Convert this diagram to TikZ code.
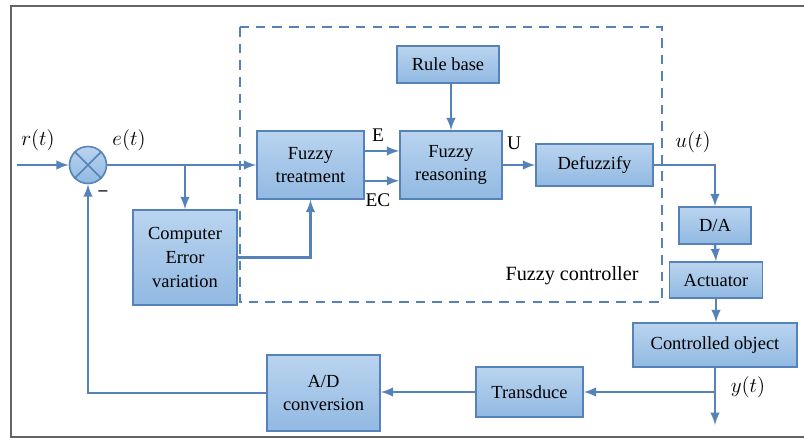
\documentclass[tikz,border=0pt]{standalone}
\usepackage{fontspec}
\setmainfont{Liberation Serif}
\usepackage{tikz}
\usetikzlibrary{positioning}

\definecolor{lineblue}{RGB}{84,130,185}
\definecolor{boxtop}{RGB}{186,212,239}
\definecolor{boxbot}{RGB}{145,185,226}
\definecolor{framegray}{RGB}{100,100,100}

\begin{document}
\begin{tikzpicture}[>=latex, x=0.02cm, y=-0.02cm,
    block/.style={draw=lineblue, line width=0.9pt, top color=boxtop, bottom color=boxbot,
        align=center, inner sep=0pt, font=\fontsize{10.5}{13.5}\selectfont},
    link/.style={draw=lineblue, line width=1.4pt},
    sig/.style={font=\large}]

        \useasboundingbox (0,0) rectangle (804,439);
        % outer frame
        \draw[framegray, line width=1.4pt] (810,6) -- (11,6) -- (11,437) -- (810,437);

        % fuzzy controller
        \draw[lineblue, line width=1.2pt, dash pattern=on 5.5pt off 4pt] (240,27) rectangle (662,302);
        \node[font=\fontsize{11.5}{14}\selectfont] at (572,276) (fc) {Fuzzy controller};

        \node[draw=lineblue, line width=0.9pt, top color=boxtop, bottom color=boxbot,
            circle, minimum size=37*0.02cm, inner sep=0pt] at (88,165) (sum) {};
        \draw[lineblue, line width=0.9pt] (sum.north west) -- (sum.south east)
            (sum.north east) -- (sum.south west);

        \node[block, minimum width=107*0.02cm, minimum height=68*0.02cm] at (310.5,165) (treat) {Fuzzy\\treatment};
        \node[block, minimum width=102*0.02cm, minimum height=37*0.02cm] at (448,64.5) (rule) {Rule base};
        \node[block, minimum width=102*0.02cm, minimum height=68*0.02cm] at (451,165) (reason) {Fuzzy\\reasoning};
        \node[block, minimum width=117*0.02cm, minimum height=42*0.02cm] at (594.5,165) (defuzz) {Defuzzify};
        \node[block, minimum width=104*0.02cm, minimum height=95*0.02cm] at (185,257.5) (errvar) {Computer\\Error\\variation};
        \node[block, minimum width=72*0.02cm, minimum height=37*0.02cm] at (715,225.5) (da) {D/A};
        \node[block, minimum width=93*0.02cm, minimum height=36*0.02cm] at (716,280) (actuator) {Actuator};
        \node[block, minimum width=164*0.02cm, minimum height=44*0.02cm] at (715,345) (plant) {Controlled object};
        \node[block, minimum width=107*0.02cm, minimum height=50*0.02cm] at (529.5,392) (transduce) {Transduce};
        \node[block, minimum width=113*0.02cm, minimum height=76*0.02cm] at (323.5,393) (ad) {A/D\\conversion};

        \coordinate (in) at (17,165);
        \coordinate (split) at (185,165);
        \coordinate (ysplit) at (715,392);
        \coordinate (out) at (715,425);

        % signals
        \node[sig] at (38,140) (rlab) {$r(t)$};
        \node[sig] at (129,140) (elab) {$e(t)$};
        \node at (103,193) (minus) {\textbf{--}};
        \node[font=\fontsize{11}{13}\selectfont] at (378,135) (elabE) {E};
        \node[font=\fontsize{11}{13}\selectfont] at (378,200) (elabEC) {EC};
        \node[font=\fontsize{11}{13}\selectfont] at (514,143) (ulab) {U};
        \node[sig] at (693,142) (ut) {$u(t)$};
        \node[sig] at (748,387) (yt) {$y(t)$};

        \draw[link, ->] (in) -- (sum.west);
        \draw[link, ->] (sum.east) -- (treat.west);
        \draw[link, ->] (split) -- (errvar.north);
        \draw[link, ->] (errvar.east) -| (treat.south);
        \draw[link, ->] ([yshift=8pt]treat.east) -- ([yshift=8pt]reason.west);
        \draw[link, ->] ([yshift=-9pt]treat.east) -- ([yshift=-9pt]reason.west);
        \draw[link, ->] (reason.north |- rule.south) -- (reason.north);
        \draw[link, ->] (reason.east) -- (defuzz.west);
        \draw[link, ->] (defuzz.east) -| (da.north);
        \draw[link, ->] (da.south) -- (actuator.north);
        \draw[link, ->] (actuator.south) -- (actuator.south |- plant.north);
        \draw[link, ->] (plant.south) -- (out);
        \draw[link, ->] (ysplit) -- (transduce.east);
        \draw[link, ->] (transduce.west) -- (transduce.west -| ad.east);
        \draw[link, ->] (ad.west) -| (sum.south);
    \end{tikzpicture}
\end{document}
